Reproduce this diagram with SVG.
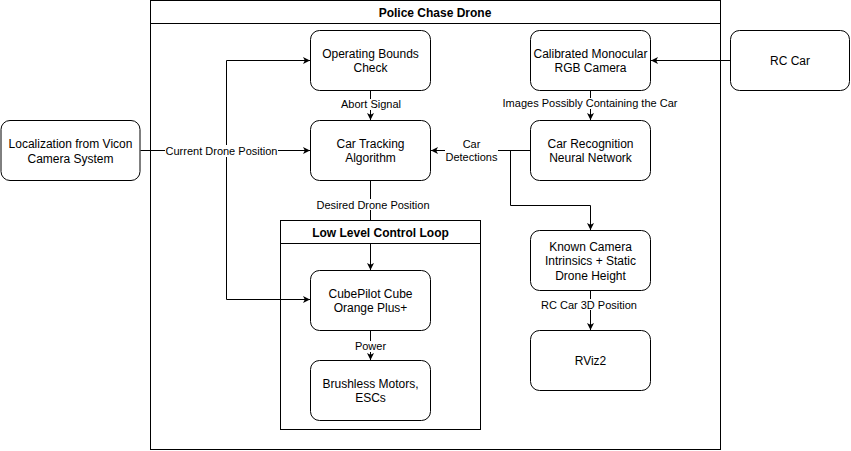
<svg xmlns="http://www.w3.org/2000/svg" width="851" height="451" viewBox="0 0 851 451">
<style>
.n{fill:#fff;stroke:#000;stroke-width:1}
.c{fill:none;stroke:#000;stroke-width:1}
.t{font-family:"Liberation Sans",Arial,sans-serif;font-size:12px;fill:#000;text-anchor:middle}
.l{font-family:"Liberation Sans",Arial,sans-serif;font-size:11px;fill:#000;text-anchor:middle}
.b{font-family:"Liberation Sans",Arial,sans-serif;font-size:12px;font-weight:bold;fill:#000;text-anchor:middle}
.e{fill:none;stroke:#000;stroke-width:1}
.lb{fill:#fff}
</style>
<defs>
<marker id="a" markerWidth="8" markerHeight="8" refX="7" refY="4" orient="auto" markerUnits="userSpaceOnUse">
<path d="M0,0.5 L7,4 L0,7.5 L1.8,4 Z" fill="#000"/>
</marker>
</defs>
<rect width="851" height="451" fill="#fff"/>
<g id="police-chase-drone">
<rect class="c" x="150.5" y="0.5" width="570" height="449"/>
<line class="c" x1="150.5" y1="23.5" x2="720.5" y2="23.5"/>
<text class="b" x="435" y="16.5">Police Chase Drone</text>
</g>
<g id="connectors">
<path class="e" d="M140.5,150.5 H310" marker-end="url(#a)"/>
<path class="e" d="M226.5,150.5 V60.5 H310" marker-end="url(#a)"/>
<path class="e" d="M226.5,150.5 V299.5 H310" marker-end="url(#a)"/>
<path class="e" d="M370.5,90 V120" marker-end="url(#a)"/>
<path class="e" d="M730,60.5 H651" marker-end="url(#a)"/>
<path class="e" d="M590.5,90 V120" marker-end="url(#a)"/>
<path class="e" d="M530,150.5 H431" marker-end="url(#a)"/>
<path class="e" d="M510.5,150.5 V205.5 H590.5 V230" marker-end="url(#a)"/>
<path class="e" d="M370.5,180 V270" marker-end="url(#a)"/>
<path class="e" d="M370.5,330 V360" marker-end="url(#a)"/>
<path class="e" d="M590.5,290 V330" marker-end="url(#a)"/>
<rect class="lb" x="165" y="145" width="113" height="12"/>
<text class="l" x="221.5" y="154.5">Current Drone Position</text>
<rect class="lb" x="340" y="99" width="62" height="11"/>
<text class="l" x="371" y="108">Abort Signal</text>
<rect class="lb" x="502" y="98" width="176" height="11"/>
<text class="l" x="590" y="107">Images Possibly Containing the Car</text>
<rect class="lb" x="445" y="138" width="53" height="25"/>
<text class="l" x="471.5" y="147.5">Car</text>
<text class="l" x="471.5" y="161">Detections</text>
<rect class="lb" x="316" y="199" width="114" height="11"/>
<text class="l" x="373" y="208.5">Desired Drone Position</text>
<rect class="lb" x="353" y="341" width="34" height="11"/>
<text class="l" x="370.5" y="350">Power</text>
<rect class="lb" x="541" y="299" width="96" height="11"/>
<text class="l" x="589" y="308.5">RC Car 3D Position</text>
</g>
<g id="low-level-control-loop">
<rect class="c" x="280.5" y="220.5" width="200" height="209"/>
<rect class="n" x="280.5" y="220.5" width="200" height="23"/>
<text class="b" x="380.5" y="236.5">Low Level Control Loop</text>
</g>
<g id="localization">
<rect class="n" x="1" y="120.5" width="139" height="60" rx="9"/>
<text class="t" x="70.5" y="148">Localization from Vicon</text>
<text class="t" x="70.5" y="162.5">Camera System</text>
</g>
<g id="operating-bounds">
<rect class="n" x="310.5" y="30.5" width="120" height="60" rx="9"/>
<text class="t" x="370.5" y="57.5">Operating Bounds</text>
<text class="t" x="370.5" y="72">Check</text>
</g>
<g id="car-tracking">
<rect class="n" x="310.5" y="120.5" width="120" height="60" rx="9"/>
<text class="t" x="370.5" y="147.5">Car Tracking</text>
<text class="t" x="370.5" y="162">Algorithm</text>
</g>
<g id="camera">
<rect class="n" x="530.5" y="30.5" width="120" height="60" rx="9"/>
<text class="t" x="590.5" y="57.5">Calibrated Monocular</text>
<text class="t" x="590.5" y="72">RGB Camera</text>
</g>
<g id="rc-car">
<rect class="n" x="730.5" y="30.5" width="119" height="60" rx="9"/>
<text class="t" x="790" y="64.5">RC Car</text>
</g>
<g id="car-recognition">
<rect class="n" x="530.5" y="120.5" width="120" height="60" rx="9"/>
<text class="t" x="590.5" y="147.5">Car Recognition</text>
<text class="t" x="590.5" y="162">Neural Network</text>
</g>
<g id="known-camera">
<rect class="n" x="530.5" y="230.5" width="120" height="60" rx="9"/>
<text class="t" x="590.5" y="250.5">Known Camera</text>
<text class="t" x="590.5" y="265">Intrinsics + Static</text>
<text class="t" x="590.5" y="279.5">Drone Height</text>
</g>
<g id="rviz2">
<rect class="n" x="530.5" y="330.5" width="120" height="60" rx="9"/>
<text class="t" x="590.5" y="364.5">RViz2</text>
</g>
<g id="cubepilot">
<rect class="n" x="310.5" y="270.5" width="120" height="60" rx="9"/>
<text class="t" x="370.5" y="297.5">CubePilot Cube</text>
<text class="t" x="370.5" y="312">Orange Plus+</text>
</g>
<g id="brushless">
<rect class="n" x="310.5" y="360.5" width="120" height="60" rx="9"/>
<text class="t" x="370.5" y="387.5">Brushless Motors,</text>
<text class="t" x="370.5" y="402">ESCs</text>
</g>
</svg>
